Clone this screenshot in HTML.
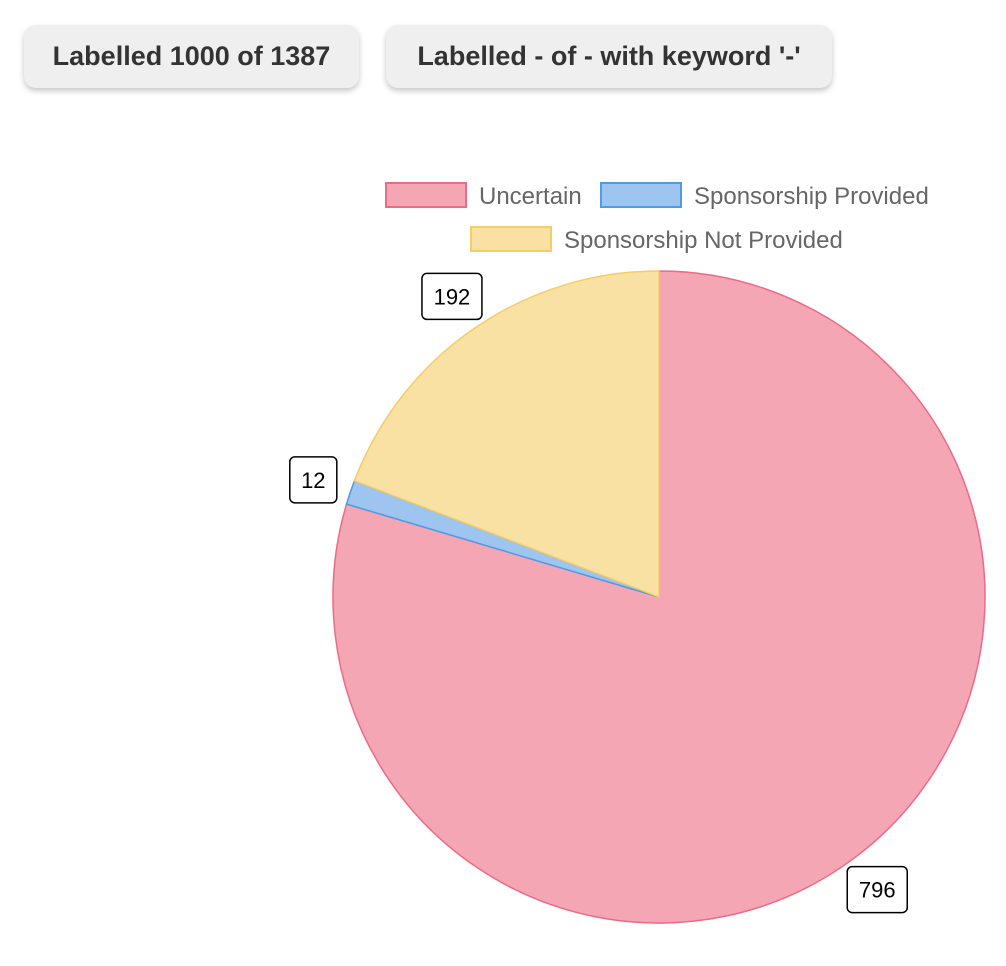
<!DOCTYPE html>
<html><head><meta charset="utf-8">
<style>
body{margin:0;width:1006px;height:966px;background:#fff;font-family:"Liberation Sans",Arial,sans-serif;overflow:hidden;position:relative}
.btn{position:absolute;top:25px;height:63px;background:#efefef;border-radius:12px;box-shadow:0 3px 6px rgba(0,0,0,0.22);font-weight:bold;font-size:27px;color:#333;line-height:63px;text-align:center;white-space:nowrap}
svg{position:absolute;left:0;top:0}
</style></head><body>
<div class="btn" style="left:24px;width:335px">Labelled 1000 of 1387</div>
<div class="btn" style="left:386px;width:446px">Labelled - of - with keyword '-'</div>
<svg id="chart" width="1006" height="966"></svg>
<script>
const categories=["Uncertain","Sponsorship Provided","Sponsorship Not Provided"];
const values=[796,12,192];
const fills=["#f4a6b5","#9ec5f0","#f9e1a3"];
const strokes=["#ee6a85","#4a9de6","#f5cd66"];
const svg=document.getElementById('chart');
const NS="http://www.w3.org/2000/svg";
const cx=659,cy=597,r=326,lr=365;
function mk(t,a){const e=document.createElementNS(NS,t);for(const k in a)e.setAttribute(k,a[k]);svg.appendChild(e);return e;}
const total=values.reduce((a,b)=>a+b,0);
let ang=-Math.PI/2;
const mids=[];
values.forEach((v,i)=>{
  const sw=v/total*2*Math.PI,a2=ang+sw;
  const x1=cx+r*Math.cos(ang),y1=cy+r*Math.sin(ang),x2=cx+r*Math.cos(a2),y2=cy+r*Math.sin(a2);
  const p=mk('path',{d:`M${cx},${cy}L${x1},${y1}A${r},${r} 0 ${sw>Math.PI?1:0} 1 ${x2},${y2}Z`,fill:fills[i],stroke:strokes[i],'stroke-width':1.5});
  
  
  mids.push(ang+sw/2);ang=a2;
});
values.forEach((v,i)=>{
  const x=cx+lr*Math.cos(mids[i]),y=cy+lr*Math.sin(mids[i]);
  const t=String(v),w=t.length*13+21;
  const rc=mk('rect',{x:x-w/2,y:y-23,width:w,height:46,rx:5,fill:'#fff',stroke:'#000','stroke-width':1.5});
  
  
  const tx=mk('text',{x:x,y:y+8,'text-anchor':'middle','font-size':22,fill:'#000','font-family':'Liberation Sans, sans-serif'});
  tx.textContent=t;
  
  
});
const leg=[[386,183],[601,183],[471,227]];
categories.forEach((c,i)=>{
  const [x,y]=leg[i];
  const b=mk('rect',{x:x,y:y,width:80,height:24,fill:fills[i],stroke:strokes[i],'stroke-width':2});
  
  
  const t=mk('text',{x:x+93,y:y+21,'font-size':24,fill:'#666','font-family':'Liberation Sans, sans-serif'});
  t.textContent=c;
  
  
});
</script>
</body></html>
